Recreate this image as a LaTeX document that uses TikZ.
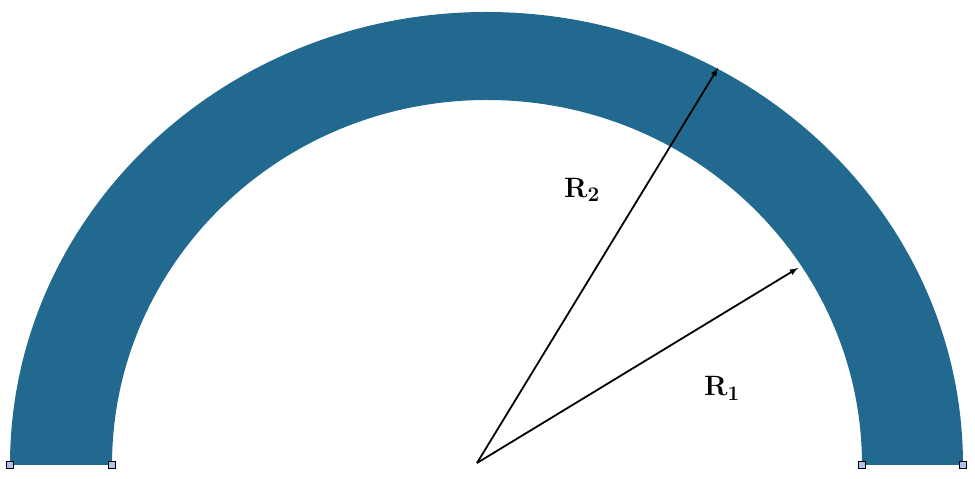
\documentclass[tikz,border=0pt]{standalone}
\begin{document}
\begin{tikzpicture}[x=1pt,y=1pt,
  sq/.style={draw=black,fill=cyan!40!blue!30,minimum size=7pt,inner sep=0pt,line width=1pt},
  arr/.style={-latex,line width=1.8pt},
  lab/.style={font=\bfseries\fontsize{28}{30}\selectfont}]
\useasboundingbox (0,0) rectangle (975,479);
\definecolor{arch}{HTML}{22698F}
\fill[arch] (10,14) arc (180:0:476.5 and 453) -- (862,14) arc (0:180:375 and 365) -- cycle;
\node[sq] (s1) at (10,14) {};
\node[sq] (s2) at (112,14) {};
\node[sq] (s3) at (862,14) {};
\node[sq] (s4) at (963,14) {};
\coordinate (o) at (477,16);
\coordinate (t2) at (718,411);
\coordinate (t1) at (798,211);
\draw[arr] (o) -- (t2);
\draw[arr] (o) -- (t1);
\node[lab] (r2) at (582,289) {R$_\mathbf{2}$};
\node[lab] (r1) at (722,91) {R$_\mathbf{1}$};
\end{tikzpicture}
\end{document}
